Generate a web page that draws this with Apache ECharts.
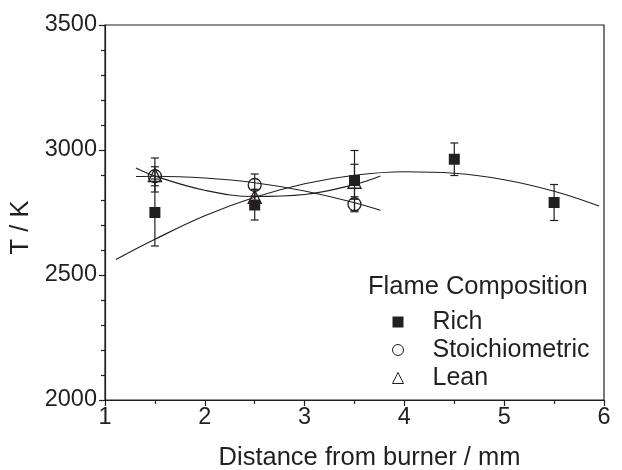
<!DOCTYPE html>
<html><head><meta charset="utf-8">
<script src="https://cdn.jsdelivr.net/npm/echarts@6/dist/echarts.min.js"></script>
<style>html,body{margin:0;padding:0;background:#fff}#c{width:622px;height:470px}</style>
</head><body><div id="c"></div>
<script>
// Measured data (x = distance / mm, T / K, error = ± K)
var richX = [1.5, 2.5, 3.5, 4.5, 5.5];
var richT = [2750, 2780, 2878, 2963, 2790];
var richErr = [134, 60, 120, 65, 72];

var stoichX = [1.5, 2.5, 3.5];
var stoichT = [2895, 2860, 2783];
var stoichErr = [38, 44, 30];

var leanX = [1.5, 2.5, 3.5];
var leanT = [2900, 2813, 2873];
var leanErr = [68, 30, 70];

// Fit curves
var richFitX = [1.11, 1.5, 2, 2.5, 3, 3.5, 4, 4.5, 5, 5.5, 5.95];
var richFitT = [2562, 2643, 2737, 2811, 2865, 2899, 2913, 2907, 2881, 2835, 2776];
var stoichFitX = [1.31, 1.5, 2, 2.5, 3, 3.5, 3.76];
var stoichFitT = [2894, 2895, 2888, 2869, 2836, 2789, 2759];
var leanFitX = [1.31, 1.5, 2, 2.5, 3, 3.5, 3.76];
var leanFitT = [2928, 2896, 2839, 2814, 2822, 2862, 2896];

var xTicks = [1, 2, 3, 4, 5, 6];
var yTicks = [2000, 2500, 3000, 3500];
var legendTitle = 'Flame Composition';
var INK = '#231f20';
var FONT = '"Liberation Sans", Arial, sans-serif';

function zip(xs, ys) { return xs.map(function (x, i) { return [x, ys[i]]; }); }
function zipErr(xs, ys, es) { return xs.map(function (x, i) { return [x, ys[i] - es[i], ys[i] + es[i]]; }); }

function errRender(params, api) {
  var lo = api.coord([api.value(0), api.value(1)]);
  var hi = api.coord([api.value(0), api.value(2)]);
  var w = 4;
  var st = { stroke: INK, lineWidth: 1.2 };
  return { type: 'group', children: [
    { type: 'line', shape: { x1: lo[0], y1: lo[1], x2: hi[0], y2: hi[1] }, style: st },
    { type: 'line', shape: { x1: lo[0] - w, y1: lo[1], x2: lo[0] + w, y2: lo[1] }, style: st },
    { type: 'line', shape: { x1: hi[0] - w, y1: hi[1], x2: hi[0] + w, y2: hi[1] }, style: st }
  ]};
}

function fitSeries(xs, ys) {
  return { type: 'line', data: zip(xs, ys), smooth: 0.4, showSymbol: false, symbol: 'none',
    lineStyle: { color: INK, width: 1.2 }, silent: true, z: 2 };
}
function errSeries(xs, ys, es) {
  return { type: 'custom', data: zipErr(xs, ys, es), renderItem: errRender, silent: true, z: 3,
    encode: { x: 0, y: [1, 2] } };
}

var chart = echarts.init(document.getElementById('c'), null, { renderer: 'canvas' });
chart.setOption({
  animation: false,
  backgroundColor: '#fff',
  textStyle: { fontFamily: FONT },
  grid: { left: 105, right: 18, top: 25, bottom: 70, containLabel: false, outerBoundsMode: 'none',
    show: true, borderColor: INK, borderWidth: 1.2, backgroundColor: 'transparent' },
  xAxis: {
    type: 'value', min: 1, max: 6, interval: 1,
    name: 'Distance from burner / mm', nameLocation: 'middle', nameGap: 45,
    nameTextStyle: { fontSize: 25.5, color: INK, fontFamily: FONT, padding: [0, 0, 0, 30] },
    axisLine: { lineStyle: { color: INK, width: 1.2 } },
    axisTick: { inside: false, length: 6, lineStyle: { color: INK, width: 1.2 } },
    minorTick: { show: true, splitNumber: 2, length: 4, lineStyle: { color: INK, width: 1.2 } },
    axisLabel: { fontSize: 23.5, color: INK, margin: 6, fontFamily: FONT,
      formatter: function (v) { return xTicks.indexOf(v) >= 0 ? String(v) : ''; } },
    splitLine: { show: false }
  },
  yAxis: {
    type: 'value', min: 2000, max: 3500, interval: 500,
    name: 'T / K', nameLocation: 'middle', nameGap: 64, nameRotate: 90,
    nameTextStyle: { fontSize: 25.5, color: INK, fontFamily: FONT, padding: [0, 30, 0, 0] },
    axisLine: { show: true, lineStyle: { color: INK, width: 1.2 } },
    axisTick: { show: true, inside: false, length: 6, lineStyle: { color: INK, width: 1.2 } },
    minorTick: { show: true, splitNumber: 5, length: 4, lineStyle: { color: INK, width: 1.2 } },
    axisLabel: { fontSize: 23.5, color: INK, margin: 8, fontFamily: FONT,
      formatter: function (v) { return yTicks.indexOf(v) >= 0 ? String(v) : ''; } },
    splitLine: { show: false }
  },
  legend: {
    orient: 'vertical', left: 387, top: 304, itemWidth: 11, itemHeight: 11, itemGap: 2,
    selectedMode: false,
    textStyle: { fontSize: 25, color: INK, fontFamily: FONT, padding: [0, 0, 0, 24], lineHeight: 26 },
    data: [
      { name: 'Rich', icon: 'rect', itemStyle: { color: INK, borderWidth: 0, opacity: 1 } },
      { name: 'Stoichiometric', icon: 'circle', itemStyle: { color: 'transparent', borderColor: INK, borderWidth: 1, opacity: 1 } },
      { name: 'Lean', icon: 'triangle', itemStyle: { color: 'transparent', borderColor: INK, borderWidth: 1, opacity: 1 } }
    ]
  },
  graphic: [
    { type: 'text', left: 368, top: 274, style: { text: legendTitle, fontSize: 25.5, fill: INK, fontFamily: FONT } }
  ],
  series: [
    fitSeries(richFitX, richFitT),
    fitSeries(stoichFitX, stoichFitT),
    fitSeries(leanFitX, leanFitT),
    errSeries(richX, richT, richErr),
    errSeries(stoichX, stoichT, stoichErr),
    errSeries(leanX, leanT, leanErr),
    { name: 'Rich', type: 'scatter', data: zip(richX, richT), symbol: 'rect', symbolSize: 11,
      itemStyle: { color: INK, opacity: 1 }, z: 5 },
    { name: 'Stoichiometric', type: 'scatter', data: zip(stoichX, stoichT), symbol: 'circle', symbolSize: 13,
      itemStyle: { color: 'transparent', borderColor: INK, borderWidth: 1.3, opacity: 1 }, z: 5 },
    { name: 'Lean', type: 'scatter', data: zip(leanX, leanT), symbol: 'triangle', symbolSize: 13,
      itemStyle: { color: 'transparent', borderColor: INK, borderWidth: 1.3, opacity: 1 }, z: 5 }
  ]
});
</script></body></html>
